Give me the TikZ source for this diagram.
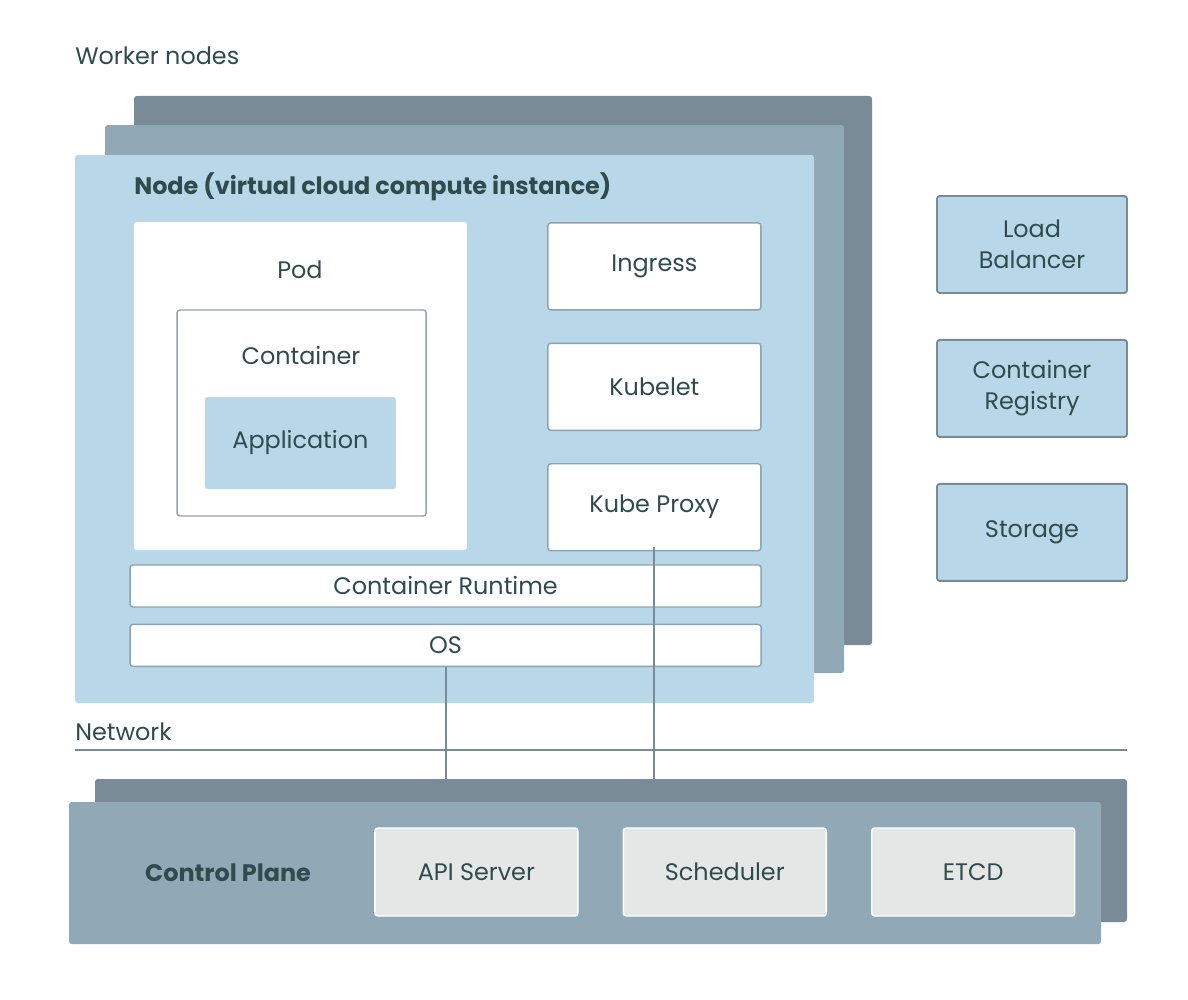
\documentclass[tikz,border=0pt]{standalone}
\usepackage{fontspec}
\setmainfont{Poppins}
\usepackage{xcolor}
\definecolor{textDark}{HTML}{2F4B4B}
\definecolor{stackDark}{HTML}{7A8B98}
\definecolor{stackMid}{HTML}{91A9B6}
\definecolor{nodeBlue}{HTML}{B8D8EA}
\definecolor{edgeGray}{HTML}{8FA3AE}
\definecolor{planeGray}{HTML}{E5E7E6}
\usetikzlibrary{positioning}
\tikzset{
  layerBox/.style={
    rectangle,
    rounded corners=2pt,
    inner sep=0pt
 },
  whiteBox/.style={
    rectangle,
    rounded corners=2pt,
    draw=edgeGray,
    line width=1pt,
    fill=white,
    text=textDark,
    minimum width=5.325cm,
    minimum height=2.175cm,
    align=center
 },
  barBox/.style={
    whiteBox,
    minimum width=15.775cm,
    minimum height=1.05cm
 },
  serviceBox/.style={
    rectangle,
    rounded corners=2pt,
    draw=stackDark,
    line width=1.4pt,
    fill=nodeBlue,
    text=textDark,
    minimum width=4.75cm,
    minimum height=2.425cm,
    align=center
 },
  planeBox/.style={
    rectangle,
    rounded corners=2pt,
    draw=white,
    line width=1pt,
    fill=planeGray,
    text=textDark,
    minimum width=5.075cm,
    minimum height=2.2cm,
    align=center
 },
  linkLine/.style={
    line width=1.4pt,
    color=stackDark
 },
  plainLabel/.style={
    text=textDark,
    inner sep=0pt
 }
}

\begin{document}
\begin{tikzpicture}[y=-1cm, font=\fontsize{17}{21}\selectfont]

            \useasboundingbox (0,0) rectangle (29.7,25);

            % Worker node stack
            \fill[stackDark, rounded corners=2pt] (3.35,2.4) rectangle (21.8,16.125);
            \fill[stackMid, rounded corners=2pt] (2.625,3.125) rectangle (21.1,16.825);
            \fill[nodeBlue, rounded corners=2pt] (1.875,3.875) rectangle (20.35,17.575);

            \node[plainLabel, anchor=west] (workerTitle) at (1.875,1.4) {Worker nodes};
            \node[plainLabel, anchor=west, font=\fontsize{17}{21}\selectfont\bfseries] (nodeTitle) at (3.35,4.675) {Node (virtual cloud compute instance)};

            % Pod
            \node[whiteBox, draw=none, minimum width=8.325cm, minimum height=8.2cm] (pod) at (7.51,9.65) {};
            \node[plainLabel] (podLabel) at (7.5,6.75) {Pod};
            \node[whiteBox, minimum width=6.225cm, minimum height=5.15cm] (container) at (7.54,10.325) {};
            \node[plainLabel] (containerLabel) at (7.525,8.9) {Container};
            \node[whiteBox, draw=none, fill=nodeBlue, minimum width=4.775cm, minimum height=2.3cm] (app) at (7.51,11.075) {Application};

            % Node services
            \node[whiteBox] (ingress) at (16.36,6.66) {Ingress};
            \node[whiteBox, below=0.8cm of ingress] (kubelet) {Kubelet};
            \node[whiteBox, below=0.8cm of kubelet] (proxy) {Kube Proxy};
            \node[barBox] (runtime) at (11.14,14.65) {Container Runtime};
            \node[barBox, below=0.4cm of runtime] (os) {OS};

            % Outside services
            \node[serviceBox] (lb) at (25.8,6.1125) {Load\\[1pt]Balancer};
            \node[serviceBox, below=1.125cm of lb] (registry) {Container\\[1pt]Registry};
            \node[serviceBox, below=1.125cm of registry] (storage) {Storage};

            % Network
            \node[plainLabel, anchor=west] (networkLabel) at (1.875,18.3) {Network};
            \coordinate (netLeft) at (1.875,18.75);
            \coordinate (netRight) at (28.175,18.75);
            \draw[linkLine, line width=1.2pt] (netLeft) -- (netRight);

            % Control plane stack
            \node[layerBox, fill=stackDark, minimum width=25.8cm, minimum height=3.575cm] (cpBack) at (15.275,21.2625) {};
            \node[layerBox, fill=stackMid, minimum width=25.8cm, minimum height=3.55cm] (cpFront) at (14.625,21.825) {};
            \node[plainLabel, font=\fontsize{17}{21}\selectfont\bfseries] (cpLabel) at (5.7,21.825) {Control Plane};
            \node[planeBox] (api) at (11.91,21.8) {API Server};
            \node[planeBox, right=1.1cm of api] (scheduler) {Scheduler};
            \node[planeBox, right=1.1cm of scheduler] (etcd) {ETCD};

            % Links to control plane
            \draw[linkLine] (os.south) -- (os.south |- cpBack.north);
            \draw[linkLine] ([yshift=0.1cm]proxy.south) -- (proxy.south |- cpBack.north);

        \end{tikzpicture}
\end{document}
